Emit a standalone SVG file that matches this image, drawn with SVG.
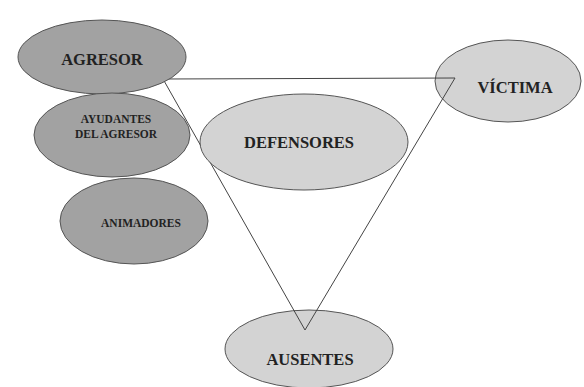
<svg xmlns="http://www.w3.org/2000/svg" width="584" height="387" viewBox="0 0 584 387">
<style>
.dark{fill:#a2a2a2;stroke:#555;stroke-width:1}
.light{fill:#d3d3d3;stroke:#555;stroke-width:1}
text{font-family:'Liberation Serif','DejaVu Serif',serif;fill:#222;text-anchor:middle;font-weight:bold}
.big{font-size:16.5px}
.small{font-size:11.5px}
.tri{fill:none;stroke:#444;stroke-width:1}
</style>
<rect width="584" height="387" fill="#fff"/>
<g id="victima"><ellipse class="light" cx="508" cy="81" rx="73" ry="41"/><text class="big" x="515" y="93" font-family="Liberation Serif, serif">VÍCTIMA</text></g>
<g id="ausentes"><ellipse class="light" cx="309" cy="349" rx="84" ry="39"/><text class="big" x="310" y="365" font-family="Liberation Serif, serif">AUSENTES</text></g>
<g id="connectors"><polygon class="tri" points="163,79 455,78 305,330"/></g>
<g id="agresor"><ellipse class="dark" cx="102" cy="57" rx="84" ry="37"/><text class="big" x="102" y="65" font-family="Liberation Serif, serif">AGRESOR</text></g>
<g id="ayudantes"><ellipse class="dark" cx="112" cy="135" rx="78" ry="42"/><text class="small" x="116" y="123" font-family="Liberation Serif, serif">AYUDANTES</text><text class="small" x="116" y="138" font-family="Liberation Serif, serif">DEL AGRESOR</text></g>
<g id="animadores"><ellipse class="dark" cx="134" cy="221" rx="74" ry="43"/><text class="small" x="141" y="227" font-family="Liberation Serif, serif">ANIMADORES</text></g>
<g id="defensores"><ellipse class="light" cx="304" cy="142" rx="104" ry="48"/><text class="big" x="299" y="148" font-family="Liberation Serif, serif">DEFENSORES</text></g>
</svg>
